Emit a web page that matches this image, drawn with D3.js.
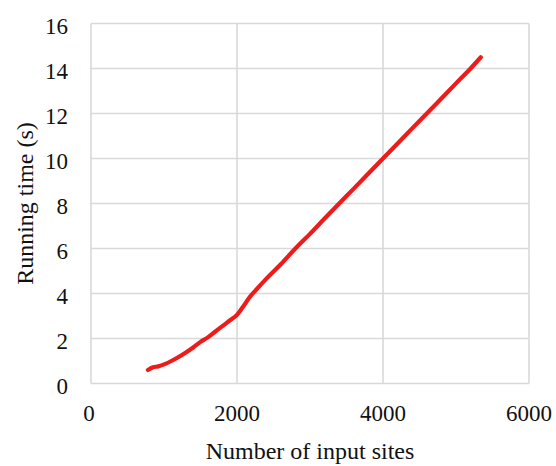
<!DOCTYPE html>
<html>
<head>
<meta charset="utf-8">
<script src="https://cdn.jsdelivr.net/npm/d3@7"></script>
<style>
  body { margin: 0; background: #fff; }
  text { font-family: "Liberation Serif", "Times New Roman", serif; fill: #111; }
</style>
</head>
<body>
<div id="chart"></div>
<script>
var width = 556;
var height = 466;

// number of input sites vs running time (s)
var sites = [780, 850, 920, 1000, 1100, 1200, 1300, 1400, 1500, 1600, 1700, 1800, 1900, 2000,
  2080, 2160, 2250, 2400, 2600, 2800, 3000, 3200, 3400, 3600, 3800, 4000, 4200, 4400, 4600,
  4800, 5000, 5200, 5340];
var times = [0.6, 0.72, 0.76, 0.85, 1.0, 1.18, 1.38, 1.6, 1.85, 2.05, 2.3, 2.55, 2.8, 3.05,
  3.4, 3.78, 4.12, 4.65, 5.3, 6.0, 6.65, 7.33, 8.0, 8.66, 9.33, 10.0, 10.67, 11.34, 12.0,
  12.67, 13.34, 14.0, 14.5];
var xTicks = [0, 2000, 4000, 6000];
var yTicks = [0, 2, 4, 6, 8, 10, 12, 14, 16];

var margin = { left: 91, right: 27, top: 23.5, bottom: 82.5 };

var svg = d3.select("#chart")
  .append("svg")
  .attr("width", width)
  .attr("height", height);

var x = d3.scaleLinear().domain([0, 6000]).range([margin.left, width - margin.right]);
var y = d3.scaleLinear().domain([0, 16]).range([height - margin.bottom, margin.top]);

var grid = svg.append("g").attr("stroke", "#d9d9d9").attr("stroke-width", 1.6);

grid.selectAll("line.h")
  .data(yTicks).enter()
  .append("line")
  .attr("x1", x(0)).attr("x2", x(6000))
  .attr("y1", function(d) { return y(d); })
  .attr("y2", function(d) { return y(d); });

grid.selectAll("line.v")
  .data(xTicks).enter()
  .append("line")
  .attr("y1", y(0)).attr("y2", y(16))
  .attr("x1", function(d) { return x(d); })
  .attr("x2", function(d) { return x(d); });

// y tick labels
svg.append("g")
  .selectAll("text")
  .data(yTicks).enter()
  .append("text")
  .attr("x", 68)
  .attr("y", function(d) { return y(d) + 10; })
  .attr("text-anchor", "end")
  .attr("font-size", 23)
  .text(function(d) { return d; });

// x tick labels
svg.append("g")
  .selectAll("text")
  .data(xTicks).enter()
  .append("text")
  .attr("x", function(d) { return x(d) - (d === 0 ? 2 : 0); })
  .attr("y", 421)
  .attr("text-anchor", "middle")
  .attr("font-size", 23)
  .text(function(d) { return d; });

svg.append("text")
  .attr("x", (x(0) + x(6000)) / 2)
  .attr("y", 459)
  .attr("text-anchor", "middle")
  .attr("font-size", 24)
  .text("Number of input sites");

svg.append("text")
  .attr("transform", "translate(33," + (y(0) + y(16)) / 2 + ") rotate(-90)")
  .attr("text-anchor", "middle")
  .attr("font-size", 24)
  .text("Running time (s)");

var line = d3.line()
  .x(function(d, i) { return x(sites[i]); })
  .y(function(d) { return y(d); })
  .curve(d3.curveMonotoneX);

svg.append("path")
  .datum(times)
  .attr("d", line)
  .attr("fill", "none")
  .attr("stroke", "#ee1b1b")
  .attr("stroke-width", 4.2)
  .attr("stroke-linecap", "round")
  .attr("stroke-linejoin", "round");
</script>
</body>
</html>
